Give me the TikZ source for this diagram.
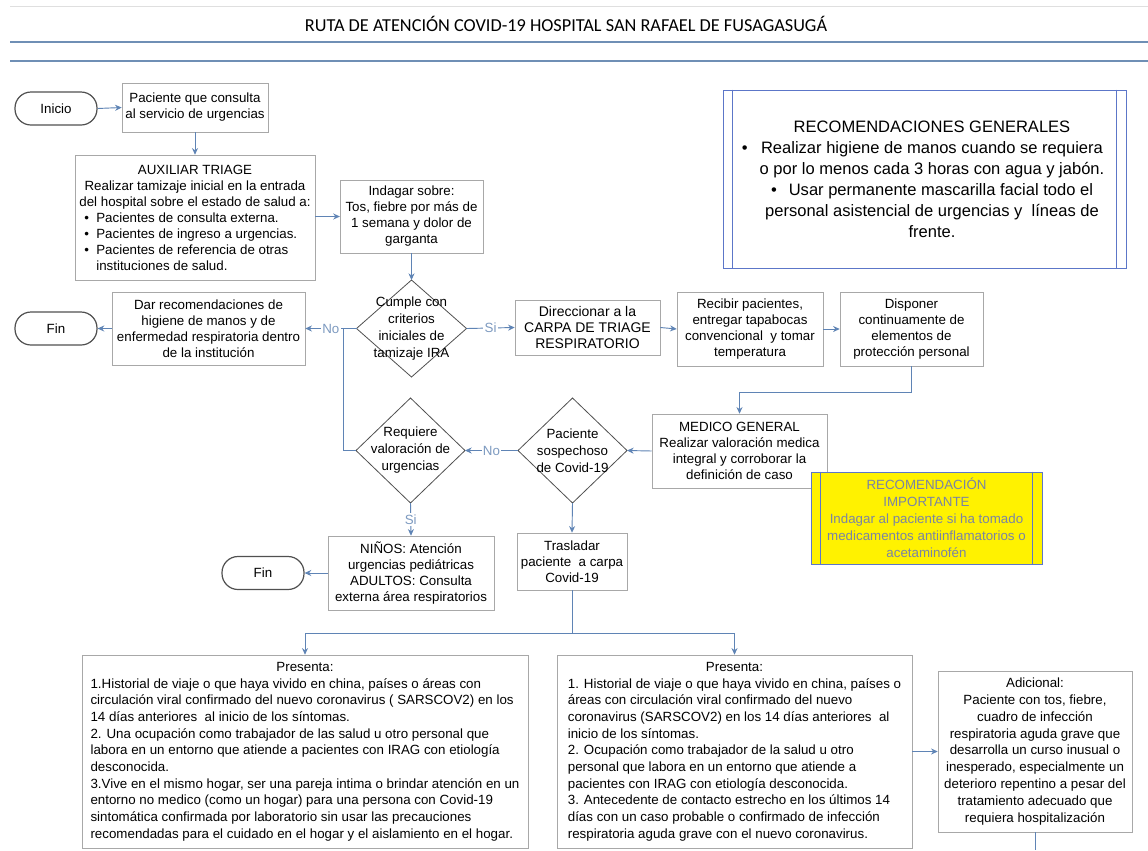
\documentclass[tikz,border=0pt]{standalone}
\usepackage{fontspec}
\setmainfont{Liberation Sans}
\newfontfamily\titlefont{Carlito}
\usetikzlibrary{arrows.meta,shapes.geometric}
\definecolor{connc}{HTML}{5F84B5}
\definecolor{lblc}{HTML}{7D9AC0}
\definecolor{bgray}{HTML}{A8A8A8}
\definecolor{dgray}{HTML}{505050}
\definecolor{recblue}{HTML}{5C76C8}
\definecolor{ytext}{HTML}{7A84A4}
\definecolor{hline}{HTML}{6F8FB5}
\newcommand{\bl}[1]{\makebox[172pt][l]{\makebox[12pt][l]{\hspace{3pt}•}#1}}
\tikzset{
 box/.style={draw=bgray, fill=white, align=center, inner sep=1pt, font=\fontsize{10}{12}\selectfont},
 term/.style={draw=dgray, line width=0.9pt, rounded corners=12pt, fill=white, minimum width=61.5pt, minimum height=24.75pt, font=\fontsize{10}{12}\selectfont},
 dia/.style={draw=dgray, line width=0.6pt, diamond, fill=white, inner sep=0pt, outer sep=0pt},
 dtext/.style={align=center, font=\fontsize{10}{12.75}\selectfont, inner sep=0pt},
 conn/.style={draw=connc, line width=0.7pt},
 arr/.style={conn, -{Stealth[length=5pt,width=4.5pt]}},
 lab/.style={fill=white, text=lblc, font=\fontsize{10}{12}\selectfont, inner sep=1pt},
}
\begin{document}
\begin{tikzpicture}[x=0.75pt,y=-0.75pt]
\useasboundingbox (0,0) rectangle (1148,850);
\fill[white] (0,0) rectangle (1148,850);
% header
\draw[gray!25, line width=0.6pt] (10,6) -- (1148,6);
\node[font=\titlefont\fontsize{13.7}{16}\selectfont] (title) at (566,24) {RUTA DE ATENCIÓN COVID-19 HOSPITAL SAN RAFAEL DE FUSAGASUGÁ};
\draw[hline, line width=0.8pt] (10,42) -- (1148,42);
\draw[hline, line width=0.8pt] (10,61) -- (1148,61);

% nodes
\node[term] (inicio) at (56,108.5) {Inicio};
\node[box, minimum width=109.5pt, minimum height=36.75pt] (pac) at (195,107.5) {Paciente que consulta\\al servicio de urgencias};
\node[box, minimum width=180pt, minimum height=93.75pt] (aux) at (195,217.5) {AUXILIAR TRIAGE\\Realizar tamizaje inicial en la entrada\\del hospital sobre el estado de salud a:\\\bl{Pacientes de consulta externa.}\\\bl{Pacientes de ingreso a urgencias.}\\\bl{Pacientes de referencia de otras}\\\makebox[172pt][l]{\hspace{12pt}instituciones de salud.}};
\node[box, minimum width=107pt, minimum height=55pt] (ind) at (411.5,216.5) {Indagar sobre:\\Tos, fiebre por más de\\1 semana y dolor de\\garganta};
\node[dia, minimum width=82.5pt, minimum height=72.75pt] (cum) at (411.5,328.5) {};
\node[dtext] (cumt) at (cum.center) {Cumple con\\criterios\\iniciales de\\tamizaje IRA};
\node[box, minimum width=108.75pt, minimum height=41.25pt, font=\fontsize{10.5}{12.2}\selectfont] (dir) at (587.5,327.5) {Direccionar a la\\CARPA DE TRIAGE\\RESPIRATORIO};
\node[box, minimum width=109.5pt, minimum height=55.5pt] (rec) at (750,329) {Recibir pacientes,\\entregar tapabocas\\convencional \ y tomar\\temperatura};
\node[box, minimum width=107.25pt, minimum height=55.5pt] (disp) at (911.5,329) {Disponer\\continuamente de\\elementos de\\protección personal};
\node[box, minimum width=144.75pt, minimum height=54.75pt] (dar) at (208.5,328.5) {Dar recomendaciones de\\higiene de manos y de\\enfermedad respiratoria dentro\\de la institución};
\node[term] (fin1) at (56,328.5) {Fin};

% recomendaciones generales
\node[draw=recblue, line width=0.6pt, fill=white, minimum width=302.25pt, minimum height=133.5pt, inner sep=0pt] (recgen) at (924.5,179) {};
\draw[recblue, line width=0.6pt] ([xshift=7.5pt]recgen.north west) -- ([xshift=7.5pt]recgen.south west);
\draw[recblue, line width=0.6pt] ([xshift=-7.5pt]recgen.north east) -- ([xshift=-7.5pt]recgen.south east);
\node[align=center, font=\fontsize{12.4}{15.75}\selectfont, inner sep=0pt] (recgent) at (932,179) {RECOMENDACIONES GENERALES\\\makebox[0pt][r]{•\hspace{10pt}}Realizar higiene de manos cuando se requiera\\o por lo menos cada 3 horas con agua y jabón.\\•\hspace{9pt}Usar permanente mascarilla facial todo el\\personal asistencial de urgencias y \ líneas de\\frente.};

\node[box, minimum width=131.25pt, minimum height=55.5pt] (med) at (739.5,451) {MEDICO GENERAL\\Realizar valoración medica\\integral y corroborar la\\definición de caso};
\node[draw=recblue, line width=0.6pt, fill=yellow, minimum width=173.25pt, minimum height=69pt, inner sep=0pt] (imp) at (926.5,518) {};
\draw[recblue, line width=0.6pt] ([xshift=7.5pt]imp.north west) -- ([xshift=7.5pt]imp.south west);
\draw[recblue, line width=0.6pt] ([xshift=-7.5pt]imp.north east) -- ([xshift=-7.5pt]imp.south east);
\node[align=center, text=ytext, font=\fontsize{10}{12.75}\selectfont, inner sep=0pt] (impt) at (imp.center) {RECOMENDACIÓN\\IMPORTANTE\\Indagar al paciente si ha tomado\\medicamentos antiinflamatorios o\\acetaminofén};

\node[dia, minimum width=81.75pt, minimum height=78.75pt] (sosp) at (572.5,450.5) {};
\node[dtext] (sospt) at (sosp.center) {Paciente\\sospechoso\\de Covid-19};
\node[dia, minimum width=81.75pt, minimum height=78.75pt] (req) at (410.5,450.5) {};
\node[dtext] (reqt) at (req.center) {Requiere\\valoración de\\urgencias};
\node[box, minimum width=124.5pt, minimum height=55.5pt] (ninos) at (411,573) {NIÑOS: Atención\\urgencias pediátricas\\ADULTOS: Consulta\\externa área respiratorios};
\node[box, minimum width=82.5pt, minimum height=42.75pt] (tras) at (572,561.5) {Trasladar\\paciente \ a carpa\\Covid-19};
\node[term] (fin2) at (263,573) {Fin};

\node[box, minimum width=334.5pt, minimum height=144.75pt, font=\fontsize{10}{12.5}\selectfont] (pres1) at (305,751.5) {\begin{tabular}{@{}l@{}}\multicolumn{1}{@{}c@{}}{Presenta:}\\
1.Historial de viaje o que haya vivido en china, países o áreas con\\
circulación viral confirmado del nuevo coronavirus ( SARSCOV2) en los\\
14 días anteriores \ al inicio de los síntomas.\\
2. Una ocupación como trabajador de las salud u otro personal que\\
labora en un entorno que atiende a pacientes con IRAG con etiología\\
desconocida.\\
3.Vive en el mismo hogar, ser una pareja intima o brindar atención en un\\
entorno no medico (como un hogar) para una persona con Covid-19\\
sintomática confirmada por laboratorio sin usar las precauciones\\
recomendadas para el cuidado en el hogar y el aislamiento en el hogar.\end{tabular}};
\node[box, minimum width=266.25pt, minimum height=144.75pt, font=\fontsize{10}{12.5}\selectfont] (pres2) at (734.5,751.5) {\begin{tabular}{@{}l@{}}\multicolumn{1}{@{}c@{}}{Presenta:}\\
1. Historial de viaje o que haya vivido en china, países o\\
áreas con circulación viral confirmado del nuevo\\
coronavirus (SARSCOV2) en los 14 días anteriores \ al\\
inicio de los síntomas.\\
2. Ocupación como trabajador de la salud u otro\\
personal que labora en un entorno que atiende a\\
pacientes con IRAG con etiología desconocida.\\
3. Antecedente de contacto estrecho en los últimos 14\\
días con un caso probable o confirmado de infección\\
respiratoria aguda grave con el nuevo coronavirus.\end{tabular}};
\node[box, minimum width=145.5pt, minimum height=120.75pt, font=\fontsize{10}{12.6}\selectfont] (adic) at (1035,751.5) {Adicional:\\Paciente con tos, fiebre,\\cuadro de infección\\respiratoria aguda grave que\\desarrolla un curso inusual o\\inesperado, especialmente un\\deterioro repentino a pesar del\\tratamiento adecuado que\\requiera hospitalización};

% coordinates
\coordinate (j1) at (343,328.5);
\coordinate (k1) at (911.5,392);
\coordinate (t1) at (572,633);
\coordinate (adend) at (1035,850);

% connectors
\draw[arr] (inicio.east) -- (pac.west);
\draw[arr] (pac.south) -- (aux.north);
\draw[arr] (aux.east |- ind.west) -- (ind.west);
\draw[arr] (ind.south) -- (cum.north);
\draw[conn] (req.west) -| (j1);
\draw[arr] (cum.west) -- node[lab]{No} (dar.east);
\draw[arr] (cum.east) -- node[lab]{Si} (dir.west);
\draw[arr] (dar.west) -- (fin1.east);
\draw[arr] (dir.east) -- (rec.west);
\draw[arr] (rec.east) -- (disp.west);
\draw[arr] (disp.south) -- (k1) -| (med.north);
\draw[arr] (med.west) -- (sosp.east);
\draw[arr] (sosp.west) -- node[lab]{No} (req.east);
\draw[arr] (req.south) -- node[lab]{Si} (ninos.north);
\draw[arr] (ninos.west) -- (fin2.east);
\draw[arr] (sosp.south) -- (tras.north);
\draw[conn] (tras.south) -- (t1);
\draw[arr] (t1) -| (pres1.north);
\draw[arr] (t1) -| (pres2.north);
\draw[arr] (pres2.east) -- (adic.west);
\draw[conn] (adic.south) -- (adend);
\end{tikzpicture}
\end{document}
